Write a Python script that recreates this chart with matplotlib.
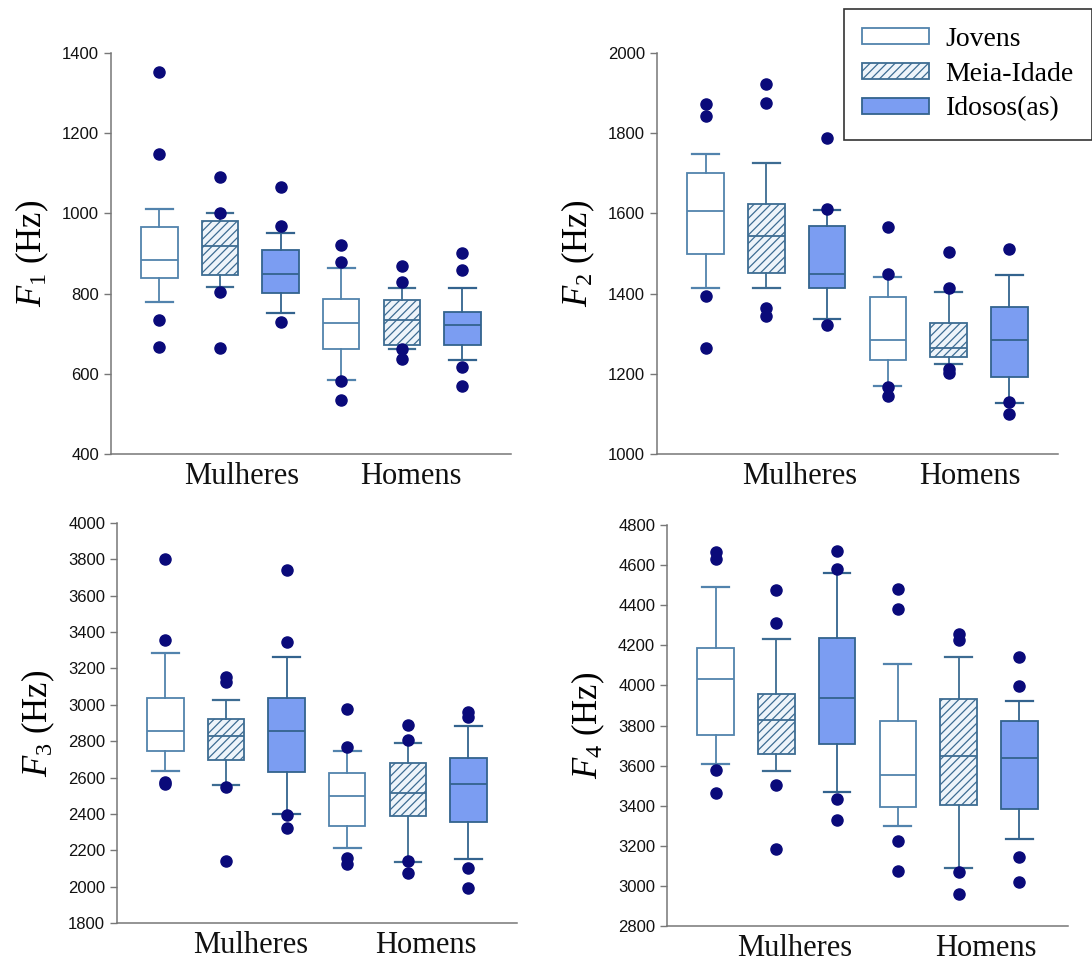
import matplotlib.pyplot as plt
from matplotlib.patches import Patch

plt.rcParams['font.family'] = ['Liberation Sans', 'DejaVu Sans']
plt.rcParams['mathtext.fontset'] = 'custom'
plt.rcParams['mathtext.rm'] = 'Liberation Serif'
plt.rcParams['mathtext.it'] = 'Liberation Serif:italic'
plt.rcParams['hatch.linewidth'] = 0.9

groups = ["Jovens", "Meia-Idade", "Idosos(as)"]
sexes = ["Mulheres", "Homens"]

# box order: Mulheres (Jovens, Meia-Idade, Idosos), Homens (Jovens, Meia-Idade, Idosos)
# each row: whisker low, Q1, median, Q3, whisker high
f1_stats = [[779, 839, 885, 967, 1012],
            [817, 847, 919, 982, 1001],
            [751, 802, 848, 909, 952],
            [584, 663, 726, 787, 865],
            [661, 673, 734, 785, 815],
            [635, 671, 722, 755, 813]]
f1_out = [[1354, 1149, 734, 667],
          [1091, 1002, 803, 664],
          [1066, 968, 729],
          [921, 879, 583, 534],
          [868, 828, 661, 638],
          [902, 859, 616, 570]]

f2_stats = [[1415, 1498, 1606, 1702, 1749],
            [1414, 1452, 1545, 1623, 1725],
            [1338, 1413, 1449, 1568, 1609],
            [1169, 1235, 1284, 1392, 1442],
            [1225, 1242, 1265, 1326, 1403],
            [1128, 1193, 1285, 1367, 1446]]
f2_out = [[1873, 1844, 1394, 1265],
          [1922, 1875, 1364, 1344],
          [1787, 1611, 1323],
          [1567, 1449, 1166, 1144],
          [1504, 1414, 1212, 1201],
          [1511, 1130, 1101]]

f3_stats = [[2635, 2746, 2856, 3036, 3283],
            [2560, 2695, 2831, 2922, 3024],
            [2399, 2633, 2858, 3036, 3264],
            [2214, 2333, 2501, 2626, 2744],
            [2137, 2388, 2514, 2679, 2790],
            [2152, 2357, 2563, 2710, 2884]]
f3_out = [[3800, 3358, 2578, 2565],
          [3154, 3127, 2547, 2141],
          [3740, 3347, 2395, 2324],
          [2975, 2770, 2155, 2124],
          [2887, 2807, 2141, 2075],
          [2959, 2931, 2100, 1990]]

f4_stats = [[3609, 3752, 4030, 4189, 4492],
            [3575, 3660, 3830, 3956, 4234],
            [3466, 3707, 3935, 4236, 4559],
            [3301, 3396, 3552, 3823, 4109],
            [3088, 3402, 3649, 3933, 4141],
            [3234, 3382, 3636, 3825, 3921]]
f4_out = [[4667, 4629, 3580, 3461],
          [4476, 4309, 3502, 3183],
          [4672, 4579, 3436, 3327],
          [4479, 4379, 3224, 3073],
          [4259, 4229, 3070, 2958],
          [4143, 3997, 3144, 3019]]

y_ranges = [(400, 1400), (1000, 2000), (1800, 4000), (2800, 4800)]
y_step = 200

edges = ["#5283ad", "#3d6c92", "#33638e"]
line_col = "#3f6f98"
navy = "#0a0a7a"
fills = ["white", "#eef4fa", "#7b9df2"]
hatches = [None, "////", None]

fig = plt.figure(figsize=(10.92, 9.65), dpi=100)
rects = [[0.1016, 0.5295, 0.3663, 0.4155],
         [0.6016, 0.5295, 0.3672, 0.4155],
         [0.1071, 0.0435, 0.3663, 0.4145],
         [0.6108, 0.0404, 0.3672, 0.4155]]
sex_pos = [[2.35, 5.15], [2.55, 5.35], [2.4, 5.3], [2.3, 5.45]]

panels = [(f1_stats, f1_out), (f2_stats, f2_out), (f3_stats, f3_out), (f4_stats, f4_out)]

for k, (stats, outs) in enumerate(panels):
    ax = fig.add_axes(rects[k])
    bx = []
    for s, o in zip(stats, outs):
        bx.append({'whislo': s[0], 'q1': s[1], 'med': s[2], 'q3': s[3], 'whishi': s[4], 'fliers': o})
    res = ax.bxp(bx, positions=range(1, 7), widths=0.6, capwidths=0.44, patch_artist=True,
                 boxprops=dict(linewidth=1.3),
                 medianprops=dict(linewidth=1.3),
                 whiskerprops=dict(linewidth=1.3),
                 capprops=dict(linewidth=1.6),
                 flierprops=dict(marker='o', markerfacecolor=navy, markeredgecolor=navy,
                                 markersize=8, linestyle='none'))
    for i, box in enumerate(res['boxes']):
        g = i % 3
        box.set_facecolor(fills[g])
        box.set_edgecolor(edges[g])
        if hatches[g]:
            box.set_hatch(hatches[g])
        res['medians'][i].set_color(edges[g])
        for j in (2 * i, 2 * i + 1):
            res['whiskers'][j].set_color(edges[g])
            res['caps'][j].set_color(edges[g])

    lo, hi = y_ranges[k]
    ax.set_ylim(lo, hi)
    ax.set_yticks(range(lo, hi + 1, y_step))
    ax.set_xlim(0.2, 6.8)
    ax.set_xticks(sex_pos[k])
    ax.set_xticklabels(sexes, family='Liberation Serif', fontsize=22)
    ax.tick_params(axis='x', length=0, pad=6, colors='#111111')
    ax.tick_params(axis='y', length=5, width=1, color='#777777', labelsize=12, labelcolor='#111111')
    for side in ['top', 'right']:
        ax.spines[side].set_visible(False)
    for side in ['left', 'bottom']:
        ax.spines[side].set_color('#777777')
        ax.spines[side].set_linewidth(1.1)
    ax.set_ylabel(r'$F_{\mathrm{%d}}$ (Hz)' % (k + 1), family='Liberation Serif', fontsize=25, labelpad=8)

handles = [Patch(facecolor=fills[i], edgecolor=edges[i], hatch=hatches[i], linewidth=1.3) for i in range(3)]
leg = fig.legend(handles, groups, loc='upper right', bbox_to_anchor=(1.0, 1 - 9 / 965),
                 borderaxespad=0.0,
                 prop={'family': 'Liberation Serif', 'size': 20}, frameon=True, fancybox=False,
                 edgecolor='black', handlelength=2.4, handleheight=0.5, handletextpad=0.6,
                 labelspacing=0.35, borderpad=0.65)
leg.get_frame().set_linewidth(1.2)

fig.savefig('out.png', dpi=100)
